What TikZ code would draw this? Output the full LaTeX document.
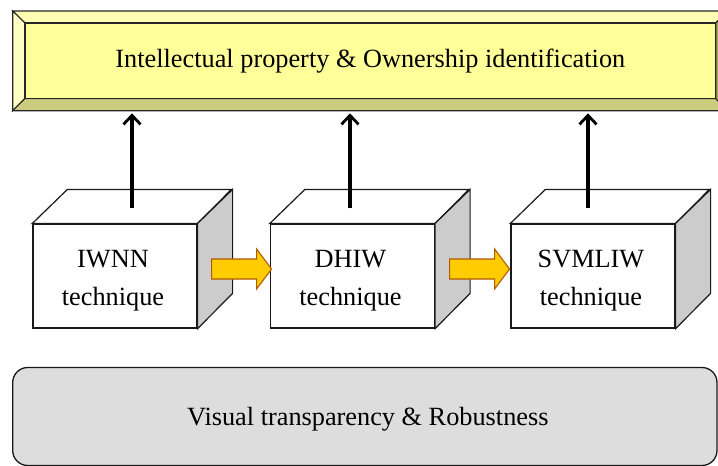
\documentclass[tikz,border=0pt]{standalone}
\usepackage{fontspec}
\setmainfont{Liberation Serif}
\newfontfamily\timesfont{Liberation Serif}
\usetikzlibrary{arrows.meta,calc}
\definecolor{yinner}{HTML}{FFFF99}
\definecolor{ytop}{HTML}{FFFFB3}
\definecolor{yleft}{HTML}{FFFFC4}
\definecolor{ybottom}{HTML}{CCCC80}
\definecolor{yright}{HTML}{A8A84E}
\definecolor{cubeside}{HTML}{CCCCCC}
\definecolor{boxgray}{HTML}{DDDDDD}
\definecolor{orfill}{HTML}{FFCC00}
\definecolor{ordraw}{HTML}{B35900}
\tikzset{
  bigtxt/.style={font=\timesfont\fontsize{26.3}{30}\selectfont, inner sep=0pt},
  bevel/.style={draw=black!85, line width=1.1pt, line join=miter},
  cubefront/.style={draw=black!90, fill=white, line width=1.2pt, minimum width=164pt, minimum height=104pt, inner sep=0pt},
  cubeface/.style={draw=black!90, line width=1.2pt, line join=miter},
  uparrow/.style={line width=3.2pt, -{Straight Barb[length=9pt,width=17pt,line width=2.8pt]}},
  blockarrow/.style={draw=ordraw, fill=orfill, line width=1.1pt, line join=miter},
}
\begin{document}
\begin{tikzpicture}[x=1pt,y=-1pt]
\useasboundingbox (0,0) rectangle (718,466);

% ---- top bevelled box ----
\coordinate (onw) at (12.7,11);
\coordinate (one) at (728,11);
\coordinate (osw) at (12.7,110.7);
\coordinate (ose) at (728,110.7);
\coordinate (inw) at (25,23);
\coordinate (ine) at (715.7,23);
\coordinate (isw) at (25,98.5);
\coordinate (ise) at (715.7,98.5);
\draw[bevel, fill=ytop] (onw) -- (one) -- (ine) -- (inw) -- cycle;
\draw[bevel, fill=yleft] (onw) -- (inw) -- (isw) -- (osw) -- cycle;
\draw[bevel, fill=ybottom] (osw) -- (isw) -- (ise) -- (ose) -- cycle;
\draw[bevel, fill=yright] (one) -- (ose) -- (ise) -- (ine) -- cycle;
\node[draw=black!85, line width=1.1pt, fill=yinner, minimum width=690.7pt, minimum height=75.5pt, inner sep=0pt] (ip) at (370.35,60.75) {};
\node[bigtxt, anchor=base] (iptxt) at ($(ip.center)+(0,6.6)$) {Intellectual property \& Ownership identification};

% ---- cubes ----
\foreach \n/\cx/\ta in {c1/115/IWNN, c2/352.5/DHIW, c3/593/SVMLIW}{
  \node[cubefront] (\n) at (\cx,276) {};
  \draw[cubeface, fill=white] (\n.north west) -- ++(35,-34) -- ++(164,0) -- (\n.north east) -- cycle;
  \draw[cubeface, fill=cubeside] (\n.north east) -- ++(35,-34) -- ++(0,104) -- (\n.south east) -- cycle;
  \node[bigtxt, anchor=base] (\n a) at ($(\n.center)+(-2,-9)$) {\ta};
  \node[bigtxt, anchor=base] (\n b) at ($(\n.center)+(-2,29.7)$) {technique};
}

% ---- up arrows ----
\coordinate (s1) at ($(c1.north)+(17,-15)$);
\coordinate (s2) at ($(c2.north)+(-2.5,-15)$);
\coordinate (s3) at ($(c3.north)+(-5,-15)$);
\foreach \s in {s1,s2,s3}{
  \draw[uparrow] (\s) -- ($(\s |- osw)+(0,2.6)$);
}

% ---- block arrows ----
\coordinate (a1) at ($(c1.east)+(14,-7)$);
\coordinate (a2) at ($(c2.east)+(14.5,-7)$);
\foreach \a in {a1,a2}{
  \draw[blockarrow] ($(\a)+(0,-10)$) -- ($(\a)+(45,-10)$) -- ($(\a)+(45,-20)$) -- ($(\a)+(60,0)$) -- ($(\a)+(45,20)$) -- ($(\a)+(45,10)$) -- ($(\a)+(0,10)$) -- cycle;
}

% ---- bottom rounded box ----
\node[draw=black!90, line width=1.3pt, fill=boxgray, rounded corners=15pt, minimum width=704.3pt, minimum height=98pt, inner sep=0pt] (vt) at (364.85,416.5) {};
\node[bigtxt, anchor=base] (vttxt) at ($(vt.center)+(3,8.5)$) {Visual transparency \& Robustness};
\end{tikzpicture}
\end{document}
